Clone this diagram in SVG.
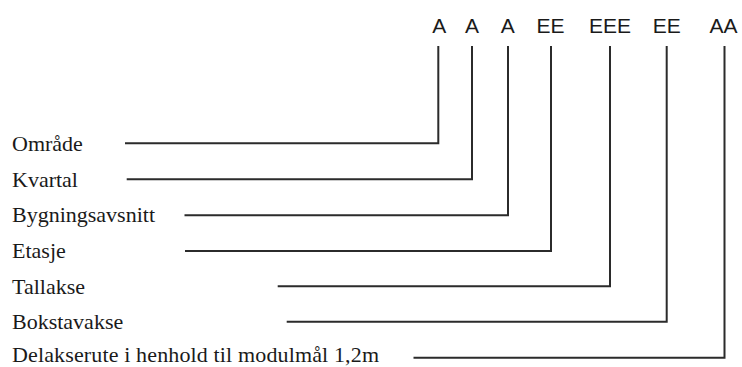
<svg xmlns="http://www.w3.org/2000/svg" width="742" height="367" viewBox="0 0 742 367">
  <style>
    .code { font-family: "Liberation Sans", Arial, sans-serif; font-size: 21px; fill: #1a1a1a; text-anchor: middle; }
    .label { font-family: "Liberation Serif", "Times New Roman", serif; font-size: 22px; fill: #1a1a1a; }
    .conn { fill: none; stroke: #2b2b2b; stroke-width: 2; }
  </style>
  <rect width="742" height="367" fill="#ffffff"/>
  <g id="codes">
    <text class="code" x="439.3" y="32.5">A</text>
    <text class="code" x="472" y="32.5">A</text>
    <text class="code" x="507.8" y="32.5">A</text>
    <text class="code" x="550.5" y="32.5">EE</text>
    <text class="code" x="610" y="32.5">EEE</text>
    <text class="code" x="666.7" y="32.5">EE</text>
    <text class="code" x="723.5" y="32.5">AA</text>
  </g>
  <g id="node-omrade"><text class="label" x="12" y="150.5">Område</text></g>
  <g id="node-kvartal"><text class="label" x="12" y="186.5">Kvartal</text></g>
  <g id="node-bygningsavsnitt"><text class="label" x="12" y="222.3">Bygningsavsnitt</text></g>
  <g id="node-etasje"><text class="label" x="12" y="258">Etasje</text></g>
  <g id="node-tallakse"><text class="label" x="12" y="293.5">Tallakse</text></g>
  <g id="node-bokstavakse"><text class="label" x="12" y="329">Bokstavakse</text></g>
  <g id="node-delakserute"><text class="label" x="12" y="362" textLength="367" lengthAdjust="spacing">Delakserute i henhold til modulmål 1,2m</text></g>
  <g id="connectors">
    <polyline class="conn" points="125,143.3 438.3,143.3 438.3,46"/>
    <polyline class="conn" points="126.7,179.3 472,179.3 472,46"/>
    <polyline class="conn" points="184.5,215.3 508,215.3 508,46"/>
    <polyline class="conn" points="185,251 551,251 551,46"/>
    <polyline class="conn" points="277.7,286.3 610,286.3 610,46"/>
    <polyline class="conn" points="286.7,321.7 666.7,321.7 666.7,46"/>
    <polyline class="conn" points="413.5,357.7 724.5,357.7 724.5,46"/>
  </g>
</svg>
